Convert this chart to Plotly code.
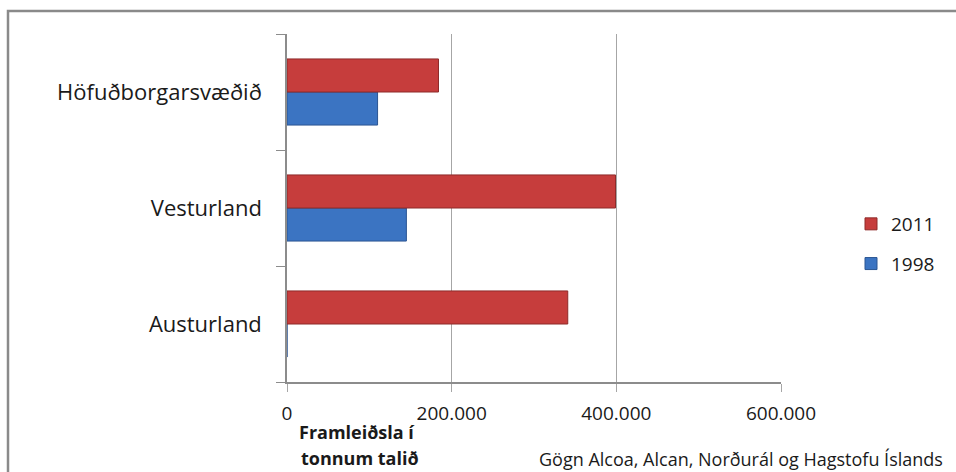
import plotly.graph_objects as go

# ---- data ----
categories = ["Austurland", "Vesturland", "Höfuðborgarsvæðið"]
values_1998 = [0, 145000, 110000]
values_2011 = [341000, 399000, 184000]
x_tickvals = [0, 200000, 400000, 600000]
x_ticktext = ["0", "200.000", "400.000", "600.000"]
axis_title_lines = ["Framleiðsla í", "tonnum talið"]
source_note = "Gögn Alcoa, Alcan, Norðurál og Hagstofu Íslands"

# ---- layout geometry (pixels) ----
W, H = 956, 472
L, R, T, B = 287, 781, 34, 382
PW, PH = R - L, B - T


def px(x):
    return (x - L) / PW


def py(y):
    return (B - y) / PH


FONT = "Open Sans"

fig = go.Figure()
fig.add_trace(go.Bar(
    y=categories, x=values_1998, orientation="h", name="1998",
    legendgroup="a", legendrank=2,
    marker=dict(color="#3B74C2", line=dict(color="#2B5592", width=1)),
))
fig.add_trace(go.Bar(
    y=categories, x=values_2011, orientation="h", name="2011",
    legendgroup="b", legendrank=1,
    marker=dict(color="#C63D3C", line=dict(color="#8E2A29", width=1)),
))

fig.update_layout(
    width=W, height=H,
    margin=dict(l=L, r=W - R, t=T, b=H - B, pad=0),
    paper_bgcolor="white", plot_bgcolor="white",
    barmode="group", bargap=0.43, bargroupgap=0,
    font=dict(family=FONT, color="#1a1a1a"),
    showlegend=True,
    legend=dict(
        x=px(851), y=py(205), xanchor="left", yanchor="top",
        traceorder="grouped", tracegroupgap=12,
        font=dict(size=19, family=FONT, color="#1a1a1a"),
        itemwidth=30, bgcolor="rgba(0,0,0,0)",
    ),
    xaxis=dict(
        range=[0, 600000], tickvals=x_tickvals, ticktext=x_ticktext,
        showgrid=True, gridcolor="#A6A6A6", gridwidth=1,
        showline=True, linecolor="#8C8C8C", linewidth=1.5,
        ticks="outside", ticklen=8, tickcolor="#A6A6A6",
        ticklabelstandoff=5,
        tickfont=dict(size=19, family=FONT, color="#1a1a1a"),
        zeroline=False, fixedrange=True,
    ),
    yaxis=dict(
        type="category", categoryorder="array", categoryarray=categories,
        showline=True, linecolor="#8C8C8C", linewidth=1.5,
        ticks="outside", ticklen=9, tickcolor="#8C8C8C", tickson="boundaries",
        ticklabelstandoff=19,
        showgrid=False,
        tickfont=dict(size=22, family=FONT, color="#1a1a1a"),
        fixedrange=True,
    ),
)

# axis title (two bold lines) and source note
fig.add_annotation(xref="paper", yref="paper", x=px(357), y=py(432),
                   text="<b>%s</b>" % axis_title_lines[0], showarrow=False,
                   xanchor="center", yanchor="middle",
                   font=dict(size=18, family=FONT, color="#1a1a1a"))
fig.add_annotation(xref="paper", yref="paper", x=px(360), y=py(458),
                   text="<b>%s</b>" % axis_title_lines[1], showarrow=False,
                   xanchor="center", yanchor="middle",
                   font=dict(size=18, family=FONT, color="#1a1a1a"))
fig.add_annotation(xref="paper", yref="paper", x=px(537), y=py(459),
                   text=source_note, showarrow=False,
                   xanchor="left", yanchor="middle",
                   font=dict(size=18, family=FONT, color="#1a1a1a"))

# outer chart frame (top and left edges visible)
fig.add_shape(type="path", xref="paper", yref="paper",
              path="M %f %f L %f %f L %f %f" % (px(8), py(480), px(8), py(11), px(970), py(11)),
              line=dict(color="#8A8A8A", width=2.5), layer="above")

fig.write_html("out.html", config={"displayModeBar": False},
               post_script="document.body.style.margin='0px';")
